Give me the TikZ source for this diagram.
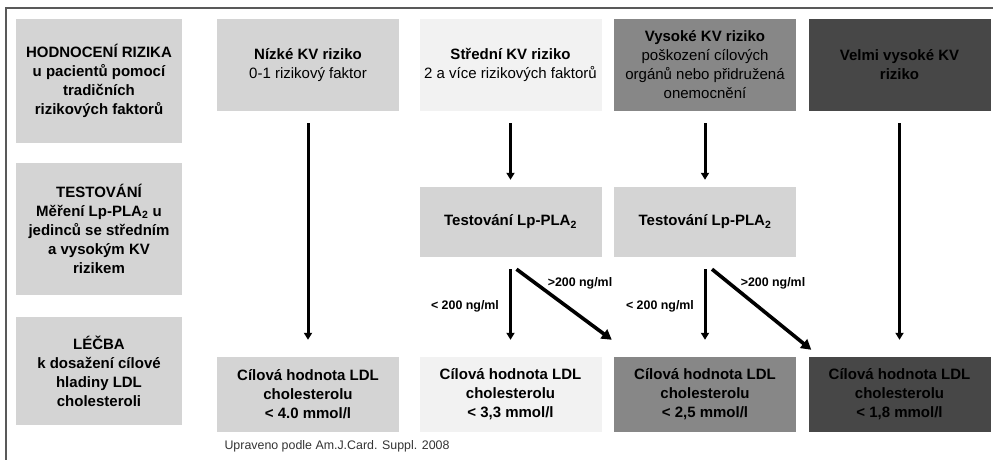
\documentclass[tikz,border=0pt]{standalone}
\usepackage{fontspec}
\setmainfont{Liberation Sans}
\usetikzlibrary{arrows.meta}

\tikzstyle{box}=[rectangle,fill=black!17,minimum width=182pt,minimum height=75pt,inner sep=0pt,align=center,font=\fontsize{15}{19}\selectfont\bfseries]
\tikzstyle{side}=[box,minimum width=166pt]
\tikzstyle{flow}=[draw,line width=3pt,-{Triangle[width=8pt,length=7pt]}]
\tikzstyle{branch}=[draw,line width=3.6pt,-{Triangle[width=11pt,length=10pt]}]
\tikzstyle{cut}=[font=\fontsize{12.4}{15}\selectfont\bfseries]

\begin{document}
\begin{tikzpicture}[x=1pt,y=-1pt]
			\useasboundingbox (0,0) rectangle (993,460);
			\draw[black!65,line width=2pt] (6,460) -- (6,8) -- (993,8);
			% Row headings on the left
			\node[side,minimum height=124pt] (hodnoceni) at (99,81) {HODNOCENÍ RIZIKA\\u pacientů pomocí\\tradičních\\rizikových faktorů};
			\node[side,minimum height=132pt] (testovani) at (99,229) {TESTOVÁNÍ\\Měření Lp-PLA\textsubscript{2} u\\jedinců se středním\\a vysokým KV\\rizikem};
			\node[side,minimum height=108pt] (lecba) at (99,371) {LÉČBA\\k dosažení cílové\\hladiny LDL\\cholesteroli};
			% Risk groups
			\node[box,minimum height=92pt] (nizke) at (308,65) {Nízké KV riziko\\\mdseries 0-1 rizikový faktor};
			\node[box,minimum height=92pt,fill=black!5] (stredni) at (510.5,65) {Střední KV riziko\\\mdseries 2 a více rizikových faktorů};
			\node[box,minimum height=92pt,fill=black!47] (vysoke) at (705,65) {Vysoké KV riziko\\\mdseries poškození cílových\\\mdseries orgánů nebo přidružená\\\mdseries onemocnění};
			\node[box,minimum height=92pt,fill=black!72] (velmi) at (899.5,65) {Velmi vysoké KV\\riziko};
			% Lp-PLA2 testing
			\node[box,minimum height=70pt] (lp1) at (510.5,222) {Testování Lp-PLA\textsubscript{2}};
			\node[box,minimum height=70pt] (lp2) at (705,222) {Testování Lp-PLA\textsubscript{2}};
			% Target values
			\node[box] (cil1) at (308,394.5) {Cílová hodnota LDL\\cholesterolu\\< 4.0 mmol/l};
			\node[box,fill=black!5] (cil2) at (510.5,394.5) {Cílová hodnota LDL\\cholesterolu\\< 3,3 mmol/l};
			\node[box,fill=black!47] (cil3) at (705,394.5) {Cílová hodnota LDL\\cholesterolu\\< 2,5 mmol/l};
			\node[box,fill=black!72] (cil4) at (899.5,394.5) {Cílová hodnota LDL\\cholesterolu\\< 1,8 mmol/l};
			% Branch labels
			\node[cut] (pod1) at (465,306) {< 200 ng/ml};
			\node[cut] (nad1) at (580,283) {>200 ng/ml};
			\node[cut] (pod2) at (660,306) {< 200 ng/ml};
			\node[cut] (nad2) at (773,283) {>200 ng/ml};
			\node[font=\fontsize{12.4}{15}\selectfont,text=black!80,anchor=west] (zdroj) at (221,446) {Upraveno podle Am.J.Card. Suppl. 2008};
			% Connect the boxes
			\foreach \source/ \dest in {nizke/cil1, velmi/cil4, lp1/cil2, lp2/cil3}
				\path[flow,shorten <=12pt,shorten >=17pt] (\source) -- (\dest);
			\foreach \source/ \dest in {stredni/lp1, vysoke/lp2}
				\path[flow,shorten <=12pt,shorten >=7pt] (\source) -- (\dest);
			\path[branch] ([xshift=6pt,yshift=-12pt]lp1.south) -- ([xshift=-2pt,yshift=17pt]cil3.north west);
			\path[branch] ([xshift=7pt,yshift=-12pt]lp2.south) -- ([xshift=3pt,yshift=7pt]cil4.north west);
		\end{tikzpicture}
\end{document}
